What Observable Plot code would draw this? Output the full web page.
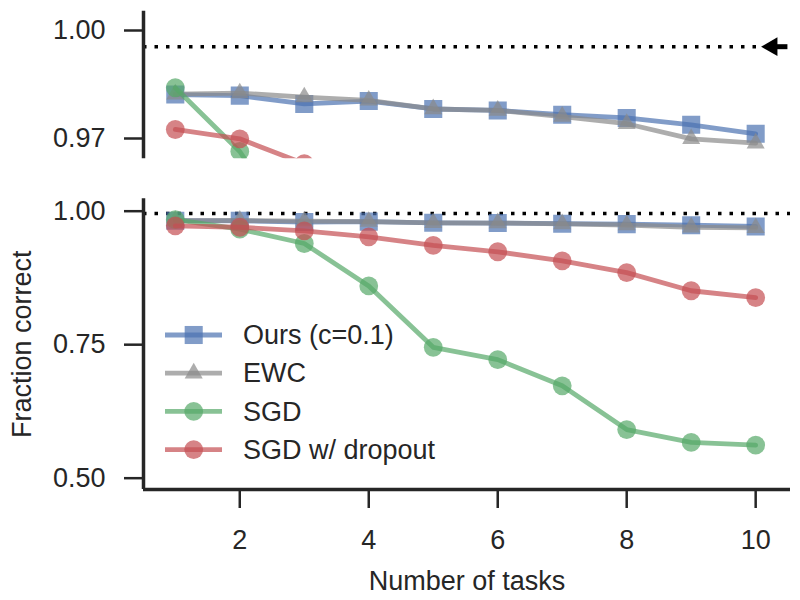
<!DOCTYPE html>
<html><head><meta charset="utf-8">
<script src="https://cdn.jsdelivr.net/npm/d3@7"></script>
<script src="https://cdn.jsdelivr.net/npm/@observablehq/plot@0.6"></script>
<style>
html,body{margin:0;padding:0;background:#fff;}
#chart{position:relative;width:800px;height:600px;font-family:"Liberation Sans",Arial,sans-serif;}
#chart svg{display:block;}
#legend{position:absolute;left:0;top:0;}
</style></head><body><div id="chart"></div>
<script>
// ---- data ----
const tasks = [1, 2, 3, 4, 5, 6, 7, 8, 9, 10];
const seriesNames = ["Ours (c=0.1)", "EWC", "SGD", "SGD w/ dropout"];
const oursValues    = [0.9822, 0.9819, 0.9796, 0.9804, 0.9782, 0.9778, 0.9766, 0.9757, 0.9738, 0.9713];
const ewcValues     = [0.9823, 0.9826, 0.9815, 0.9806, 0.9782, 0.9778, 0.9761, 0.9741, 0.9699, 0.9687];
const sgdValues     = [0.9841, 0.9664, 0.9395, 0.8600, 0.7450, 0.7220, 0.6730, 0.5910, 0.5670, 0.5620];
const dropoutValues = [0.9725, 0.9699, 0.9630, 0.9520, 0.9360, 0.9240, 0.9070, 0.8850, 0.8510, 0.8380];
const xTicks = [2, 4, 6, 8, 10];
const topYTicks = [0.97, 1.00];
const bottomYTicks = [0.50, 0.75, 1.00];
const referenceLevel = [0.9955];
const arrowTip = 10.09;
const arrowTail = 10.5;
const xLabel = "Number of tasks";
const yLabel = "Fraction correct";

// ---- styles ----
const seriesColors = ["#4C72B0", "#8a8a8a", "#55A868", "#C44E52"];
const seriesSymbols = ["square", "triangle", "circle", "circle"];
const symbolR = {square: 10.2, triangle: 6.7, circle: 9.4};
const ink = "#262626";
const font = "Liberation Sans, Arial, sans-serif";
const fs = 27;
const lw = 4.8;
const xDomain = [0.507, 10.54];
const topYDomain = [0.96436, 1.00536];
const bottomYDomain = [0.4788, 1.0232];

const allValues = [oursValues, ewcValues, sgdValues, dropoutValues];
const rows = seriesNames.map((name, i) => tasks.map((t, j) => ({series: name, task: t, value: allValues[i][j]})));

function seriesMarks(clip) {
  const marks = [];
  rows.forEach((data, i) => {
    marks.push(Plot.line(data, {x: "task", y: "value", stroke: seriesColors[i], strokeWidth: lw, strokeOpacity: 0.7, clip}));
    marks.push(Plot.dot(data, {x: "task", y: "value", symbol: seriesSymbols[i], r: symbolR[seriesSymbols[i]], fill: seriesColors[i], fillOpacity: 0.7, stroke: "none", clip}));
  });
  return marks;
}

const style = {fontFamily: font, fontSize: fs + "px", color: ink, background: "white", overflow: "visible"};

const topPlot = Plot.plot({
  width: 800, height: 175,
  marginLeft: 143, marginRight: 10, marginTop: 10.7, marginBottom: 16.7,
  style,
  x: {domain: xDomain, axis: null},
  y: {domain: topYDomain},
  marks: [
    Plot.ruleY(referenceLevel, {x1: xDomain[0], x2: arrowTip, stroke: "black", strokeWidth: 3.5, strokeDasharray: "3.5,8"}),
    ...seriesMarks(true),
    Plot.ruleY(referenceLevel, {x1: arrowTip + 0.15, x2: arrowTail, stroke: "black", strokeWidth: 5}),
    Plot.dot(referenceLevel, {x: arrowTip, y: d => d, dx: 10.5, symbol: "triangle", rotate: -90, r: 7, fill: "black", stroke: "none"}),
    Plot.ruleX([xDomain[0]], {stroke: ink, strokeWidth: 3.5}),
    Plot.axisY({ticks: topYTicks, tickFormat: ".2f", tickSize: 19, tickPadding: 19, strokeWidth: 2.5, color: ink, fontSize: fs, label: null})
  ]
});

const bottomPlot = Plot.plot({
  width: 800, height: 425,
  marginLeft: 143, marginRight: 10, marginTop: 23.3, marginBottom: 111,
  style,
  x: {domain: xDomain},
  y: {domain: bottomYDomain},
  marks: [
    Plot.ruleY(referenceLevel, {stroke: "black", strokeWidth: 3.5, strokeDasharray: "3.5,8"}),
    ...seriesMarks(true),
    Plot.ruleX([xDomain[0]], {stroke: ink, strokeWidth: 3.5}),
    Plot.ruleY([bottomYDomain[0]], {stroke: ink, strokeWidth: 3.5}),
    Plot.axisY({ticks: bottomYTicks, tickFormat: ".2f", tickSize: 19, tickPadding: 19, strokeWidth: 2.5, color: ink, fontSize: fs, label: null}),
    Plot.axisX({ticks: xTicks, tickFormat: d => String(d), tickSize: 19, tickPadding: 21, strokeWidth: 2.5, color: ink, fontSize: fs, label: null}),
    Plot.text([yLabel], {text: d => d, frameAnchor: "left", textAnchor: "middle", lineAnchor: "middle", rotate: -90, dx: -121, fill: ink, fontSize: fs}),
    Plot.text([xLabel], {text: d => d, frameAnchor: "bottom", textAnchor: "middle", lineAnchor: "middle", dy: 91.7, fill: ink, fontSize: fs})
  ]
});

const chart = document.getElementById("chart");
chart.appendChild(topPlot);
chart.appendChild(bottomPlot);

// ---- legend (overlay) ----
const legend = d3.select(chart).append("svg").attr("id", "legend")
  .attr("width", 800).attr("height", 600)
  .style("pointer-events", "none");
const lx0 = 165, lx1 = 222, lmx = 193.7, ltx = 243, ly0 = 335, lstep = 38.2;
seriesNames.forEach((name, i) => {
  const y = ly0 + i * lstep;
  const g = legend.append("g");
  g.append("line").attr("x1", lx0).attr("x2", lx1).attr("y1", y).attr("y2", y)
    .attr("stroke", seriesColors[i]).attr("stroke-width", lw).attr("stroke-opacity", 0.7);
  const sym = {square: d3.symbolSquare, triangle: d3.symbolTriangle, circle: d3.symbolCircle}[seriesSymbols[i]];
  const r = symbolR[seriesSymbols[i]];
  g.append("path").attr("d", d3.symbol(sym, r * r * Math.PI)())
    .attr("transform", `translate(${lmx},${y})`)
    .attr("fill", seriesColors[i]).attr("fill-opacity", 0.7);
  g.append("text").attr("x", ltx).attr("y", y).attr("dy", "0.34em")
    .attr("fill", ink).attr("font-family", font).attr("font-size", fs).text(name);
});
</script></body></html>
